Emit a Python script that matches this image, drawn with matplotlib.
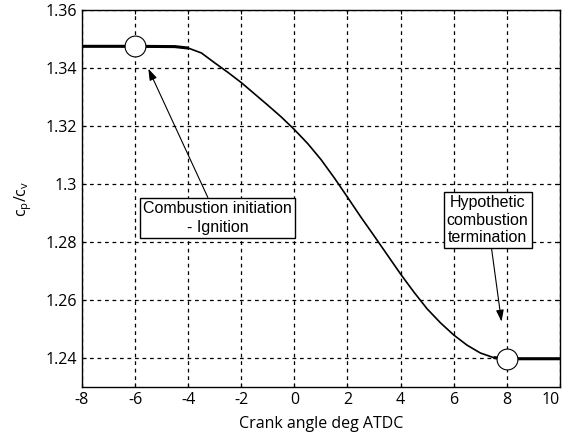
import numpy as np
import matplotlib as mpl
import matplotlib.pyplot as plt

mpl.rc('font', family='Open Sans', size=11.5)
mpl.rc('axes', unicode_minus=False)

# crank angle (deg ATDC) and ratio of specific heats
theta = [-8, -6, -4.5, -4, -3.5, -3, -2.5, -2, -1.5, -1, -0.5, 0, 0.5, 1,
         1.5, 2, 2.5, 3, 3.5, 4, 4.5, 5, 5.5, 6, 6.5, 7, 7.5, 8, 10]
gamma = [1.3475, 1.3475, 1.3474, 1.3469, 1.3452, 1.3418, 1.3385, 1.3350,
         1.3311, 1.3272, 1.3232, 1.3188, 1.3140, 1.3085, 1.3022, 1.2955,
         1.2887, 1.2822, 1.2756, 1.2690, 1.2628, 1.2570, 1.2522, 1.2480,
         1.2445, 1.2418, 1.2402, 1.2398, 1.2398]

event_theta = [-6, 8]
event_gamma = [1.3475, 1.2398]

fig = plt.figure(figsize=(5.65, 4.37), dpi=100)
ax = fig.add_axes([0.145, 0.114, 0.846, 0.863])

ax.plot(theta, gamma, color='black', lw=1.2)
# flat parts are drawn heavier in the original
ax.plot(theta[:4], gamma[:4], color='black', lw=2.2, solid_capstyle='butt')
ax.plot(theta[-3:], gamma[-3:], color='black', lw=2.2, solid_capstyle='butt')
ax.plot(event_theta, event_gamma, 'o', ms=15, mfc='white', mec='black',
        mew=0.8, zorder=5)

ax.set_xlim(-8, 10)
ax.set_ylim(1.23, 1.36)
ax.set_xticks(np.arange(-8, 11, 2))
ax.set_yticks([1.24, 1.26, 1.28, 1.3, 1.32, 1.34, 1.36])
ax.set_yticklabels(['1.24', '1.26', '1.28', '1.3', '1.32', '1.34', '1.36'])
ax.get_xticklabels()[-1].set_ha('right')
ax.tick_params(direction='in', length=3, top=True, right=True)
ax.grid(color='black', linestyle=(0, (3, 3)), lw=0.9)
for s in ax.spines.values():
    s.set_linewidth(1.0)

ax.set_xlabel('Crank angle deg ATDC', labelpad=6)
ax.set_ylabel(r'c$_\mathregular{p}$/c$_\mathregular{v}$', labelpad=8)

box = dict(boxstyle='square,pad=0.2', fc='white', ec='black', lw=1)
arrow = dict(arrowstyle='-|>,head_length=0.6,head_width=0.2', color='black',
             lw=0.8, shrinkA=0, shrinkB=0)
ax.annotate('Combustion initiation\n- Ignition', xy=(-5.5, 1.3398),
            xytext=(-2.9, 1.2883), ha='center', va='center',
            family='Liberation Sans', fontsize=11.5, bbox=box,
            arrowprops=arrow, linespacing=1.3)
ax.annotate('Hypothetic\ncombustion\ntermination', xy=(7.8, 1.2526),
            xytext=(7.28, 1.2876), ha='center', va='center',
            family='Liberation Sans', fontsize=11.5, bbox=box,
            arrowprops=arrow, linespacing=1.2)

fig.savefig('out.png', dpi=100)
